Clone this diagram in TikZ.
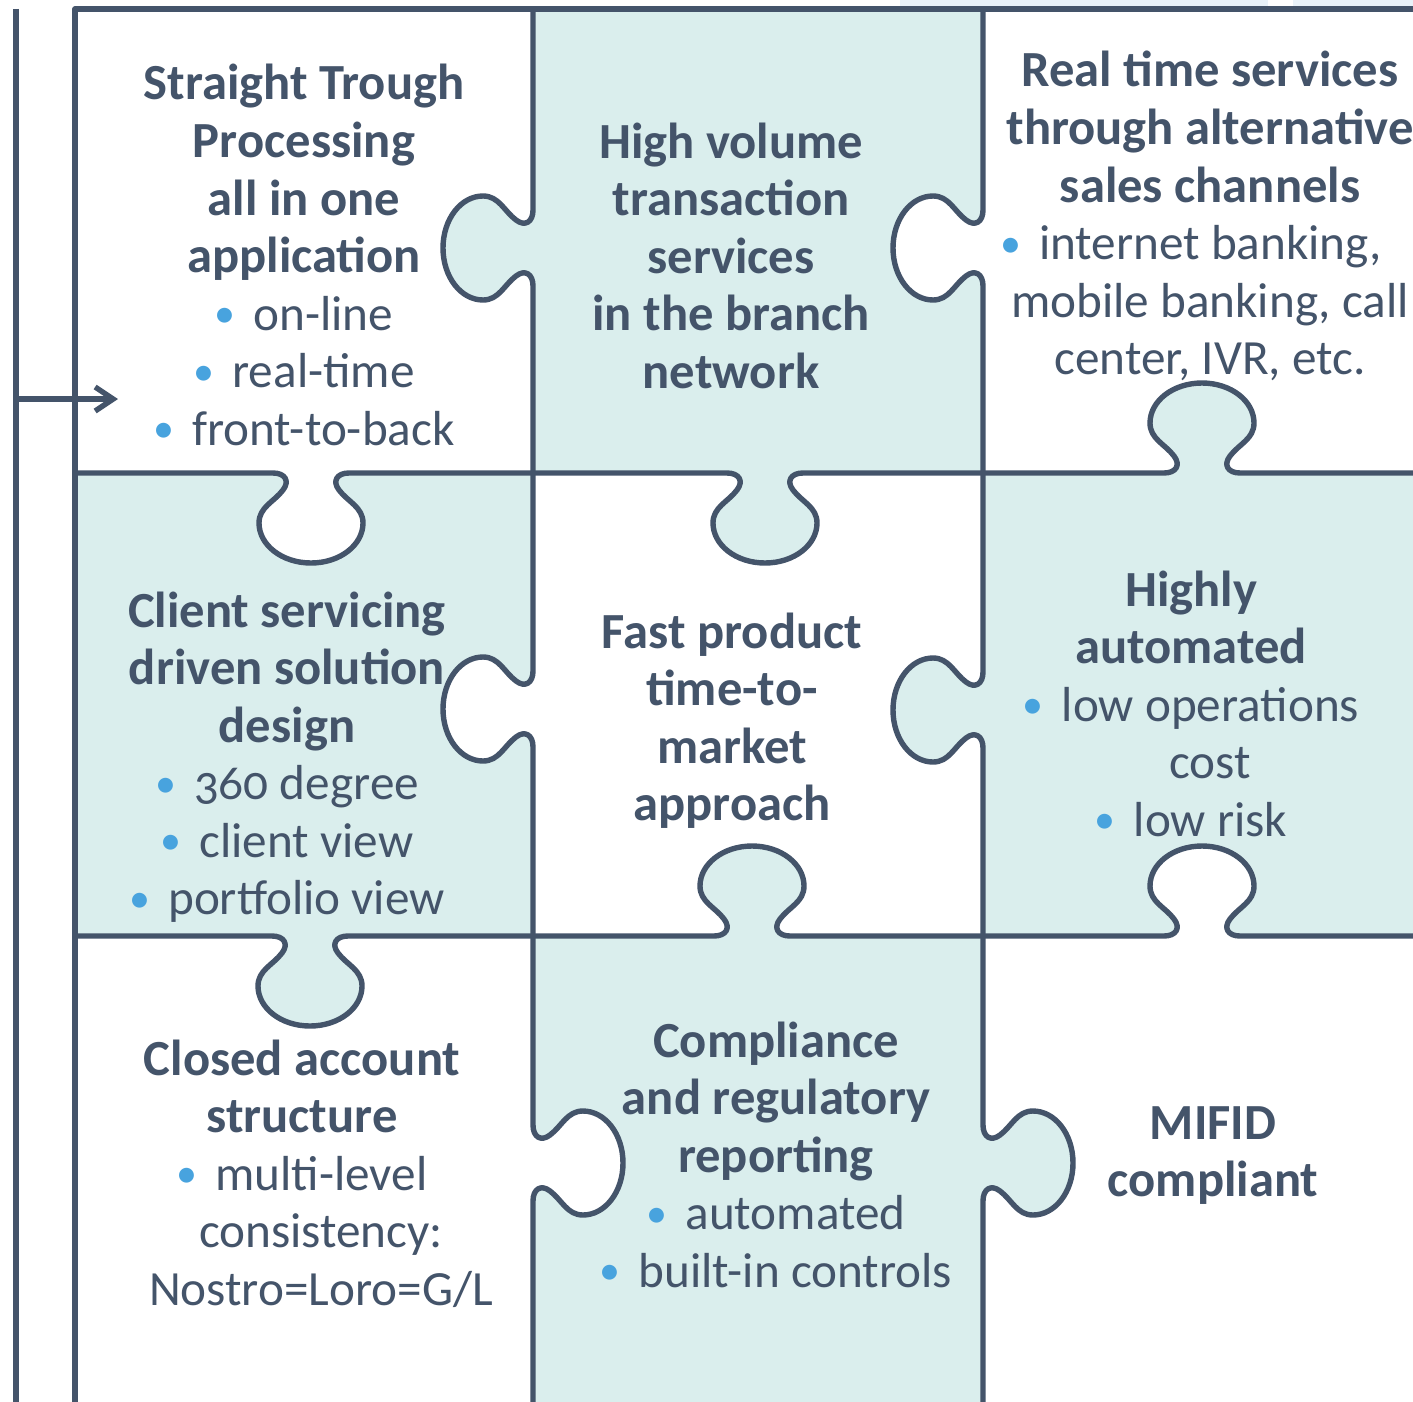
\documentclass[tikz,border=0pt]{standalone}
\usepackage{fontspec}
\setmainfont{Carlito}[Numbers=OldStyle]
\usetikzlibrary{arrows.meta}

\definecolor{lc}{RGB}{68,84,106}
\definecolor{teal}{RGB}{218,238,237}
\definecolor{bc}{RGB}{72,163,222}
\definecolor{strip}{RGB}{233,242,249}

% heading face and bullet mark
\newcommand\hd{\bfseries\fontsize{25.3}{28}\selectfont}
\newcommand\bmark{\textcolor{bc}{\raisebox{1.2pt}{\fontsize{21}{21}\selectfont •}}\hspace{9pt}}

% horizontal puzzle tab: centre x, line y, direction (+1 down, -1 up)
\newcommand\htab[3]{%
 -- ({#1-38},#2) .. controls ({#1-26},#2) and ({#1-21},{#2+(#3)*8}) .. ({#1-28},{#2+(#3)*17})
 .. controls ({#1-37},{#2+(#3)*29}) and ({#1-52},{#2+(#3)*34}) .. ({#1-52},{#2+(#3)*50})
 .. controls ({#1-52},{#2+(#3)*72}) and ({#1-29},{#2+(#3)*90}) .. (#1,{#2+(#3)*90})
 .. controls ({#1+29},{#2+(#3)*90}) and ({#1+52},{#2+(#3)*72}) .. ({#1+52},{#2+(#3)*50})
 .. controls ({#1+52},{#2+(#3)*34}) and ({#1+37},{#2+(#3)*29}) .. ({#1+28},{#2+(#3)*17})
 .. controls ({#1+21},{#2+(#3)*8}) and ({#1+26},#2) .. ({#1+38},#2)}

% vertical puzzle tab: line x, centre y, direction (+1 right, -1 left)
\newcommand\vtab[3]{%
 -- (#1,{#2-38}) .. controls (#1,{#2-26}) and ({#1+(#3)*8},{#2-21}) .. ({#1+(#3)*17},{#2-28})
 .. controls ({#1+(#3)*29},{#2-37}) and ({#1+(#3)*34},{#2-52}) .. ({#1+(#3)*50},{#2-52})
 .. controls ({#1+(#3)*72},{#2-52}) and ({#1+(#3)*90},{#2-29}) .. ({#1+(#3)*90},#2)
 .. controls ({#1+(#3)*90},{#2+29}) and ({#1+(#3)*72},{#2+52}) .. ({#1+(#3)*50},{#2+52})
 .. controls ({#1+(#3)*34},{#2+52}) and ({#1+(#3)*29},{#2+37}) .. ({#1+(#3)*17},{#2+28})
 .. controls ({#1+(#3)*8},{#2+21}) and (#1,{#2+26}) .. (#1,{#2+38})}

% one text line per node, baselines 57.5 apart
\newcommand\cell[4]{%
 \foreach \t [count=\i] in {#4}
  {\node[txt] (#1-\i) at (#2,{#3+(\i-1)*57.5}) {\t};}}

\begin{document}
\begin{tikzpicture}[x=0.5pt,y=-0.5pt,
  grid/.style={line width=2.7pt,draw=lc,line join=round},
  txt/.style={anchor=base,inner sep=0pt,text=lc,
    font=\fontsize{24.6}{28}\selectfont}]
\useasboundingbox (0,0) rectangle (1413,1402);
\clip (0,0) rectangle (1413,1402);
\fill[white] (0,0) rectangle (1413,1402);
\fill[strip] (900,0) rectangle (1268,6);
\fill[strip] (1293,0) rectangle (1413,6);

% shaded pieces
\fill[teal] (533,9) rectangle (983,473);
\fill[teal] (75,473) rectangle (533,936);
\fill[teal] (983,473) rectangle (1420,936);
\fill[teal] (533,936) rectangle (983,1410);

% tab fills, coloured like the piece they belong to
\fill[teal]  (533,210) \vtab{533}{248}{-1} -- cycle;
\fill[white] (533,671) \vtab{533}{709}{-1} -- cycle;
\fill[white] (533,1125) \vtab{533}{1163}{1} -- cycle;
\fill[white] (983,210) \vtab{983}{248}{-1} -- cycle;
\fill[teal]  (983,672) \vtab{983}{710}{-1} -- cycle;
\fill[teal]  (983,1125) \vtab{983}{1163}{1} -- cycle;
\fill[white] (273,473) \htab{311}{473}{1} -- cycle;
\fill[teal]  (727,473) \htab{765}{473}{1} -- cycle;
\fill[teal]  (1164,473) \htab{1202}{473}{-1} -- cycle;
\fill[teal]  (272,936) \htab{310}{936}{1} -- cycle;
\fill[teal]  (714,936) \htab{752}{936}{-1} -- cycle;
\fill[white] (1164,936) \htab{1202}{936}{-1} -- cycle;

% outline of the puzzle
\draw[grid] (75,1410) -- (75,9) -- (1420,9);
\draw[grid] (533,9) \vtab{533}{248}{-1} \vtab{533}{709}{-1} \vtab{533}{1163}{1} -- (533,1410);
\draw[grid] (983,9) \vtab{983}{248}{-1} \vtab{983}{710}{-1} \vtab{983}{1163}{1} -- (983,1410);
\draw[grid] (75,473) \htab{311}{473}{1} \htab{765}{473}{1} \htab{1202}{473}{-1} -- (1420,473);
\draw[grid] (75,936) \htab{310}{936}{1} \htab{752}{936}{-1} \htab{1202}{936}{-1} -- (1420,936);

% entry line and arrow
\draw[grid] (16,9) -- (16,1410);
\coordinate (arrs) at (16,399);
\coordinate (arre) at (118,399);
\draw[grid,-{Straight Barb[length=9pt,width=12pt]}] (arrs) -- (arre);

% texts
\cell{c11}{304}{100}{{\hd Straight Trough},{\hd Processing},{\hd all in one},{\hd application},{\bmark on-line},{\bmark real-time},{\bmark front-to-back}}
\cell{c12}{731}{158}{{\hd High volume},{\hd transaction},{\hd services},{\hd in the branch},{\hd network}}
\cell{c13}{1210}{87}{{\hd Real time services},{\hd through alternative},{\hd sales channels},{\hspace*{-19pt}\bmark internet banking,},{mobile banking, call},{center, IVR, etc.}}
\cell{c21}{287}{627}{{\hd Client servicing},{\hd driven solution},{\hd design},{\bmark 360 degree},{\bmark client view},{\bmark portfolio view}}
\cell{c22}{732}{648}{{\hd Fast product},{\hd time-to-},{\hd market},{\hd approach}}
\cell{c23}{1191}{606}{{\hd Highly},{\hd automated},{\bmark low operations},{\hspace*{19pt}cost},{\bmark low risk}}
\cell{c31}{302}{1075}{{\hd Closed account},{\hd structure},{\bmark multi-level},{\hspace*{19pt}consistency:},{\hspace*{19pt}Nostro=Loro=G/L}}
\cell{c32}{776}{1057}{{\hd Compliance},{\hd and regulatory},{\hd reporting},{\bmark automated},{\bmark built-in controls}}
\cell{c33}{1213}{1139}{{\hd MIFID},{\hd compliant}}
\end{tikzpicture}
\end{document}
